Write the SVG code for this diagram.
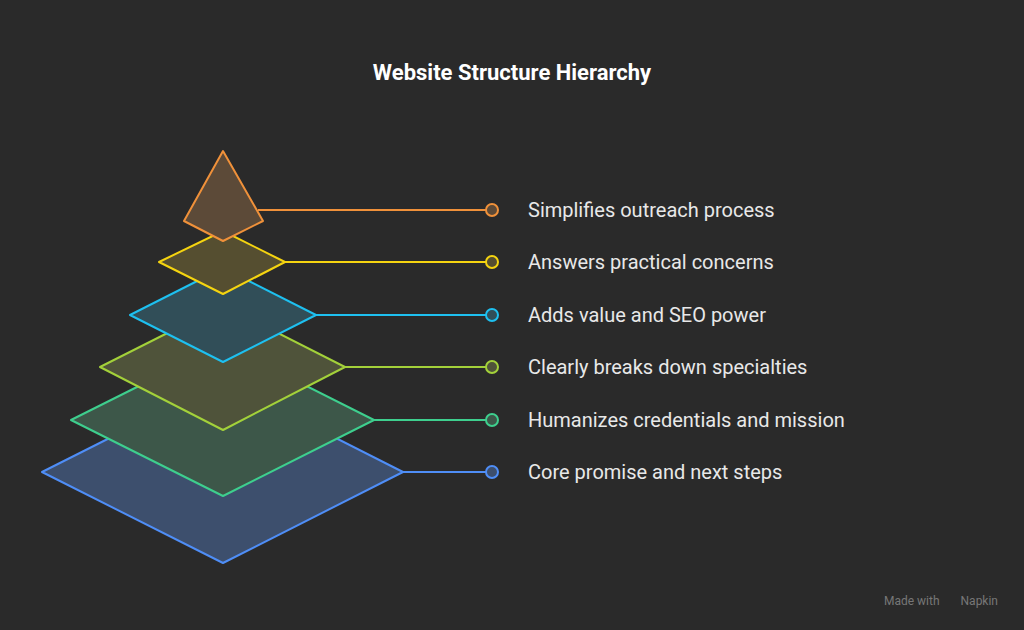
<svg xmlns="http://www.w3.org/2000/svg" width="1024" height="630" viewBox="0 0 1024 630">
<style>
.l{font-family:Roboto,"Liberation Sans",sans-serif;font-size:20px;fill:#e8e8e8}
.s{stroke-width:2;stroke-linejoin:round}
.c{stroke-width:2}
</style>
<rect width="1024" height="630" fill="#2a2a2a"/>
<text x="512" y="80" text-anchor="middle" font-family="Roboto,'Liberation Sans',sans-serif" font-weight="bold" font-size="22" fill="#ffffff">Website Structure Hierarchy</text>
<g id="connectors">
<line x1="403" y1="472" x2="486" y2="472" stroke="#4f8ef7" class="c"/>
<line x1="374" y1="420" x2="486" y2="420" stroke="#3ecf8e" class="c"/>
<line x1="345" y1="367" x2="486" y2="367" stroke="#a3d13a" class="c"/>
<line x1="316" y1="315" x2="486" y2="315" stroke="#1ec0f0" class="c"/>
<line x1="285" y1="262" x2="486" y2="262" stroke="#f5d410" class="c"/>
<line x1="258" y1="210" x2="486" y2="210" stroke="#f0913a" class="c"/>
</g>
<g id="layer6"><polygon class="s" points="223,381 403,472 223,563 42,472" fill="#3d4f6d" stroke="#4f8ef7"/><circle cx="492" cy="472" r="6" fill="#3d4f6d" stroke="#4f8ef7" class="c"/><text class="l" x="528" y="479">Core promise and next steps</text></g>
<g id="layer5"><polygon class="s" points="223,344 374,420 223,496 71,420" fill="#3d5749" stroke="#3ecf8e"/><circle cx="492" cy="420" r="6" fill="#3d5749" stroke="#3ecf8e" class="c"/><text class="l" x="528" y="427">Humanizes credentials and mission</text></g>
<g id="layer4"><polygon class="s" points="223,305 345,367 223,430 100,367" fill="#4f533a" stroke="#a3d13a"/><circle cx="492" cy="367" r="6" fill="#4f533a" stroke="#a3d13a" class="c"/><text class="l" x="528" y="374">Clearly breaks down specialties</text></g>
<g id="layer3"><polygon class="s" points="223,268 316,315 223,362 130,315" fill="#314e58" stroke="#1ec0f0"/><circle cx="492" cy="315" r="6" fill="#314e58" stroke="#1ec0f0" class="c"/><text class="l" x="528" y="322">Adds value and SEO power</text></g>
<g id="layer2"><polygon class="s" points="223,231 285,262 223,294 159,262" fill="#554e30" stroke="#f5d410"/><circle cx="492" cy="262" r="6" fill="#554e30" stroke="#f5d410" class="c"/><text class="l" x="528" y="269">Answers practical concerns</text></g>
<g id="layer1"><polygon class="s" points="223,151 263,221 223,241 184,221" fill="#5c4a38" stroke="#f0913a"/><circle cx="492" cy="210" r="6" fill="#5c4a38" stroke="#f0913a" class="c"/><text class="l" x="528" y="217">Simplifies outreach process</text></g>
<text x="998" y="605" text-anchor="end" font-family="Roboto,'Liberation Sans',sans-serif" font-size="12" fill="#777">Made with <tspan dx="18">Napkin</tspan></text>
</svg>
